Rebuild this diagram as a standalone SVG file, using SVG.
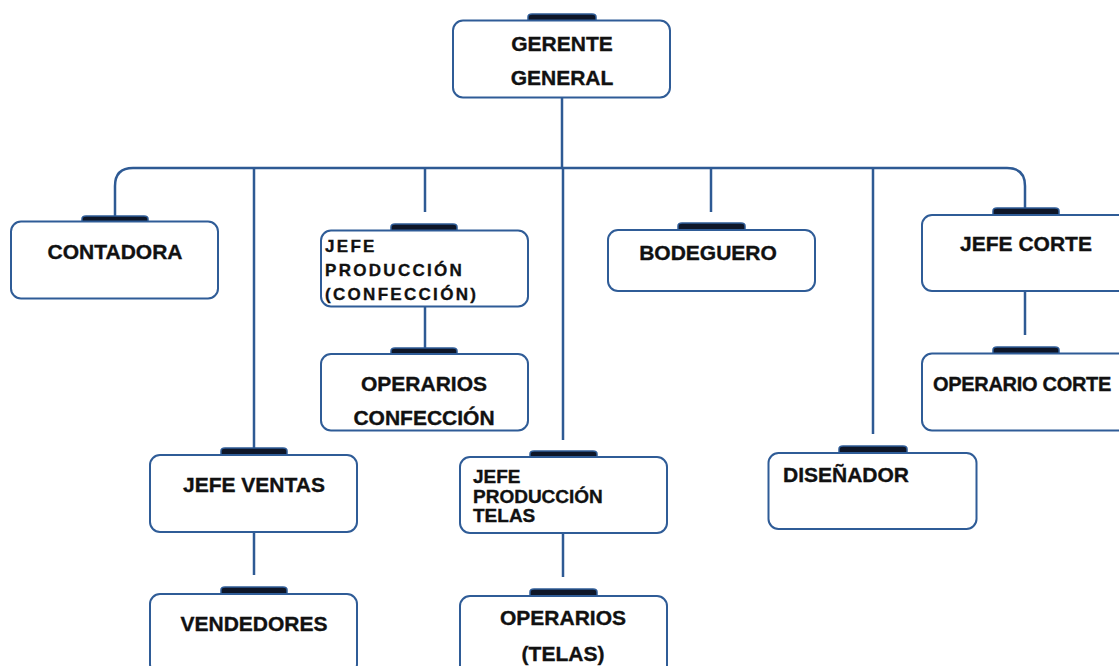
<svg xmlns="http://www.w3.org/2000/svg" width="1119" height="666" viewBox="0 0 1119 666">
  <defs>
    <style>
      .box { fill: #ffffff; stroke: #2f5c97; stroke-width: 2; }
      .tab { fill: #0e1628; stroke: #2f5c97; stroke-width: 1.5; }
      .link { fill: none; stroke: #2e5a94; stroke-width: 2.5; }
      .lbl { font-family: "Liberation Sans", Arial, sans-serif; font-weight: bold; font-size: 21px; fill: #111111; stroke: #111111; stroke-width: 0.35; }
      .mid { text-anchor: middle; }
      .spaced { font-size: 17px; letter-spacing: 2.3px; }
      .tight { font-size: 19px; }
    </style>
  </defs>

  <rect width="1119" height="666" fill="#ffffff"/>

  <!-- connectors -->
  <g id="connectors">
    <path class="link" d="M562 97 V168"/>
    <path class="link" d="M115 216 V186 Q115 168 133 168 H1007 Q1025 168 1025 186 V208"/>
    <path class="link" d="M254 168 V449"/>
    <path class="link" d="M425 168 V212"/>
    <path class="link" d="M563 168 V440"/>
    <path class="link" d="M711 168 V212"/>
    <path class="link" d="M873 168 V434"/>
    <path class="link" d="M254 532 V575"/>
    <path class="link" d="M425 306 V349"/>
    <path class="link" d="M563 533 V577"/>
    <path class="link" d="M1025 291 V335"/>
  </g>

  <!-- nodes -->
  <g id="gerente-general">
    <path class="tab" d="M528 22 V17 Q528 14 532 14 H592 Q596 14 596 17 V22 Z"/>
    <rect class="box" x="453" y="20.5" width="217" height="77" rx="10"/>
    <text class="lbl mid" x="562" y="51">GERENTE</text>
    <text class="lbl mid" x="562" y="85">GENERAL</text>
  </g>

  <g id="contadora">
    <path class="tab" d="M82 223 V219 Q82 216 86 216 H144 Q148 216 148 219 V223 Z"/>
    <rect class="box" x="11" y="221.5" width="207" height="77" rx="10"/>
    <text class="lbl mid" x="115" y="259">CONTADORA</text>
  </g>

  <g id="jefe-ventas">
    <path class="tab" d="M221 456 V451 Q221 448 225 448 H283 Q287 448 287 451 V456 Z"/>
    <rect class="box" x="150" y="455" width="207" height="77" rx="10"/>
    <text class="lbl mid" x="254" y="492">JEFE VENTAS</text>
  </g>

  <g id="vendedores">
    <path class="tab" d="M221 595 V590 Q221 587 225 587 H283 Q287 587 287 590 V595 Z"/>
    <rect class="box" x="150" y="594" width="207" height="80" rx="10"/>
    <text class="lbl mid" x="254" y="631">VENDEDORES</text>
  </g>

  <g id="jefe-produccion-confeccion">
    <path class="tab" d="M391 232 V227 Q391 224 395 224 H453 Q457 224 457 227 V232 Z"/>
    <rect class="box" x="321" y="230.5" width="207" height="76" rx="10"/>
    <text class="lbl spaced" x="325" y="252">JEFE</text>
    <text class="lbl spaced" x="325" y="276">PRODUCCIÓN</text>
    <text class="lbl spaced" x="325" y="300">(CONFECCIÓN)</text>
  </g>

  <g id="operarios-confeccion">
    <path class="tab" d="M391 356 V351 Q391 348 395 348 H453 Q457 348 457 351 V356 Z"/>
    <rect class="box" x="321" y="354" width="207" height="76.5" rx="10"/>
    <text class="lbl mid" x="424" y="391">OPERARIOS</text>
    <text class="lbl mid" x="424" y="425">CONFECCIÓN</text>
  </g>

  <g id="jefe-produccion-telas">
    <path class="tab" d="M530 458 V454 Q530 451 534 451 H593 Q597 451 597 454 V458 Z"/>
    <rect class="box" x="460" y="457" width="207" height="76" rx="10"/>
    <text class="lbl tight" x="473" y="483">JEFE</text>
    <text class="lbl tight" x="473" y="503">PRODUCCIÓN</text>
    <text class="lbl tight" x="473" y="522">TELAS</text>
  </g>

  <g id="operarios-telas">
    <path class="tab" d="M530 597 V592 Q530 589 534 589 H593 Q597 589 597 592 V597 Z"/>
    <rect class="box" x="460" y="596" width="207" height="80" rx="10"/>
    <text class="lbl mid" x="563" y="625">OPERARIOS</text>
    <text class="lbl mid" x="563" y="661">(TELAS)</text>
  </g>

  <g id="bodeguero">
    <path class="tab" d="M678 231 V226 Q678 223 682 223 H741 Q745 223 745 226 V231 Z"/>
    <rect class="box" x="608" y="230" width="207" height="61" rx="10"/>
    <text class="lbl mid" x="708" y="260">BODEGUERO</text>
  </g>

  <g id="disenador">
    <path class="tab" d="M839 454 V449 Q839 446 843 446 H903 Q907 446 907 449 V454 Z"/>
    <rect class="box" x="768.5" y="453" width="208" height="76" rx="10"/>
    <text class="lbl" x="783" y="482">DISEÑADOR</text>
  </g>

  <g id="jefe-corte">
    <path class="tab" d="M993 216 V211 Q993 208 997 208 H1055 Q1059 208 1059 211 V216 Z"/>
    <rect class="box" x="922" y="215" width="215" height="76" rx="10"/>
    <text class="lbl mid" x="1026" y="251">JEFE CORTE</text>
  </g>

  <g id="operario-corte">
    <path class="tab" d="M993 355 V350 Q993 347 997 347 H1055 Q1059 347 1059 350 V355 Z"/>
    <rect class="box" x="922" y="353.5" width="215" height="77" rx="10"/>
    <text class="lbl" x="933" y="391" style="font-size:20px; letter-spacing:-0.3px">OPERARIO CORTE</text>
  </g>
</svg>
